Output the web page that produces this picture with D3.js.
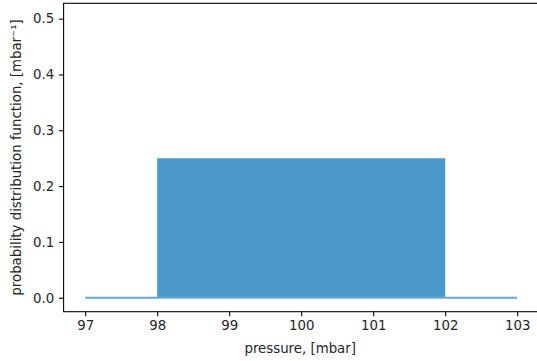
<!DOCTYPE html>
<html>
<head>
<meta charset="utf-8">
<script src="https://cdn.jsdelivr.net/npm/d3@7"></script>
<style>
  html, body { margin: 0; padding: 0; background: #fff; }
  svg { display: block; }
  text { font-family: "DejaVu Sans", sans-serif; fill: #262626; }
</style>
</head>
<body>
<svg id="chart" width="537" height="361"></svg>
<script>
// Data
const lineX = [97, 98, 102, 103];
const lineY = [0, 0, 0, 0];
const boxX = [98, 102];
const boxHeight = [0.25, 0.25];
const xTicks = [97, 98, 99, 100, 101, 102, 103];
const yTicks = [0.0, 0.1, 0.2, 0.3, 0.4, 0.5];
const xDomain = [96.7, 103.3];
const yDomain = [-0.025, 0.5275];

const svg = d3.select("#chart");
const L = 63.6, R = 538.8, T = 3.3, B = 311.7;
const FS = 13.33, TICK = 4.67;

const x = d3.scaleLinear().domain(xDomain).range([L, R]);
const y = d3.scaleLinear().domain(yDomain).range([B, T]);

// filled region
const area = d3.area().x(d => x(d[0])).y0(y(0)).y1(d => y(d[1]));
svg.append("path")
  .datum(boxX.map((v, i) => [v, boxHeight[i]]))
  .attr("d", area)
  .attr("fill", "#4b98ca");

// baseline line
const line = d3.line().x(d => x(d[0])).y(d => y(d[1]));
svg.append("path")
  .datum([[lineX[0], lineY[0]], [lineX[3], lineY[3]]])
  .attr("d", line)
  .attr("fill", "none")
  .attr("stroke", "#64aadc")
  .attr("stroke-width", 2);

// axes
const xAxis = d3.axisBottom(x).tickValues(xTicks).tickFormat(d3.format("d"))
  .tickSizeInner(TICK).tickSizeOuter(0).tickPadding(TICK);
const gx = svg.append("g").attr("transform", `translate(0,${B})`).call(xAxis);
gx.select(".domain").remove();
gx.selectAll(".tick line").attr("stroke", "#000").attr("stroke-width", 1.07);
gx.selectAll(".tick text").attr("font-size", FS).attr("font-family", "DejaVu Sans").attr("fill", "#262626");

const yAxis = d3.axisLeft(y).tickValues(yTicks).tickFormat(d3.format(".1f"))
  .tickSizeInner(TICK).tickSizeOuter(0).tickPadding(TICK);
const gy = svg.append("g").attr("transform", `translate(${L},0)`).call(yAxis);
gy.select(".domain").remove();
gy.selectAll(".tick line").attr("stroke", "#000").attr("stroke-width", 1.07);
gy.selectAll(".tick text").attr("font-size", FS).attr("font-family", "DejaVu Sans").attr("fill", "#262626");

// spines
svg.append("rect")
  .attr("x", L).attr("y", T).attr("width", R - L).attr("height", B - T)
  .attr("fill", "none").attr("stroke", "#000").attr("stroke-width", 1.07);

// labels
svg.append("text")
  .attr("x", (L + R) / 2 - 1).attr("y", 353)
  .attr("text-anchor", "middle").attr("font-size", FS)
  .text("pressure, [mbar]");

svg.append("text")
  .attr("transform", `translate(21,${(T + B) / 2}) rotate(-90)`)
  .attr("text-anchor", "middle").attr("font-size", FS)
  .text("probability distribution function, [mbar\u207B\u00B9]");
</script>
</body>
</html>
